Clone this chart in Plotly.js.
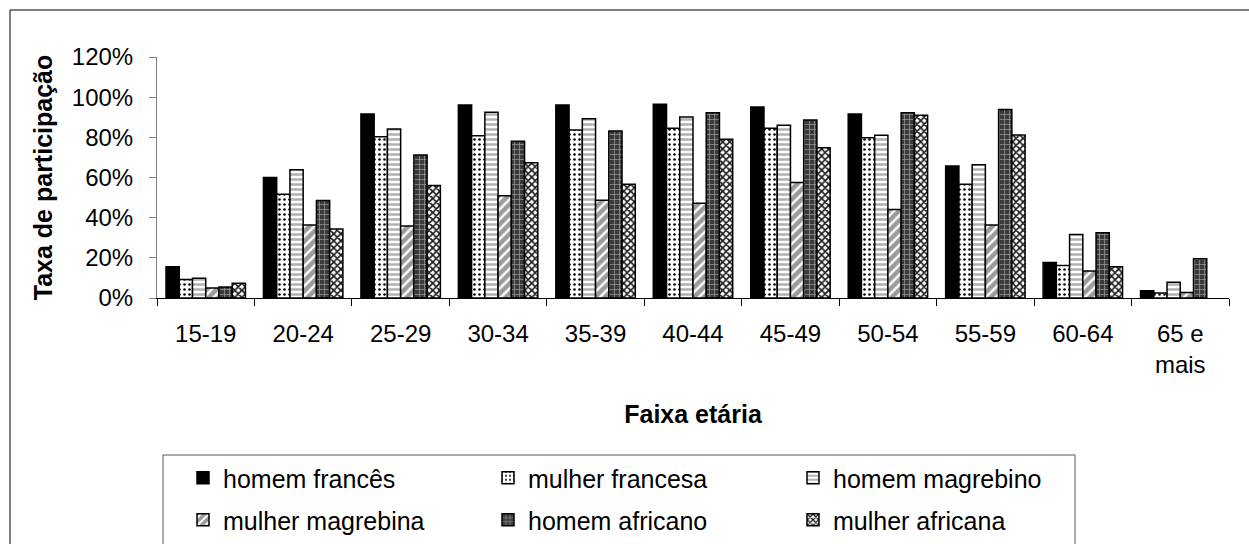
<!DOCTYPE html>
<html>
<head>
<meta charset="utf-8">
<script src="https://cdn.plot.ly/plotly-3.0.1.min.js"></script>
<style>html,body{margin:0;padding:0;background:#fff;}#chart{width:1249px;height:544px;}</style>
</head>
<body>
<div id="chart"></div>
<script>
const categories = ['15-19','20-24','25-29','30-34','35-39','40-44','45-49','50-54','55-59','60-64','65 e<br>mais'];
const seriesNames = ['homem francês','mulher francesa','homem magrebino','mulher magrebina','homem africano','mulher africana'];
const homemFrances    = [15.5, 60.0, 91.6, 96.1, 96.1, 96.5, 95.1, 91.6, 65.7, 17.7, 3.6];
const mulherFrancesa  = [9.2, 51.6, 80.3, 80.8, 83.6, 84.5, 84.5, 79.8, 56.6, 16.2, 2.5];
const homemMagrebino  = [9.8, 63.9, 84.1, 92.5, 89.3, 90.1, 86.0, 81.0, 66.3, 31.6, 7.8];
const mulherMagrebina = [5.0, 36.4, 35.9, 50.9, 48.7, 47.2, 57.5, 44.1, 36.3, 13.5, 2.8];
const homemAfricano   = [5.5, 48.6, 71.2, 78.1, 83.1, 92.3, 88.6, 92.3, 93.8, 32.5, 19.5];
const mulherAfricana  = [7.3, 34.3, 56.0, 67.3, 56.7, 79.0, 74.8, 91.0, 81.1, 15.5, null];
const yTicks = [0, 20, 40, 60, 80, 100, 120];
const yTickText = ['0%', '20%', '40%', '60%', '80%', '100%', '120%'];
const gridTicks = [20, 40, 60, 80, 100];

const FONT = 'Liberation Sans, Arial, sans-serif';
const values = [homemFrances, mulherFrancesa, homemMagrebino, mulherMagrebina, homemAfricano, mulherAfricana];
const markers = [
  {color:'#000000'},
  {color:'#ffffff', pattern:{shape:'.', fgcolor:'#000000', bgcolor:'#ffffff', size:5, solidity:0.2}},
  {color:'#ffffff', pattern:{shape:'-', fgcolor:'#b0b0b0', bgcolor:'#ffffff', size:5, solidity:0.5}},
  {color:'#9a9a9a', pattern:{shape:'/', fgcolor:'#ffffff', bgcolor:'#9a9a9a', size:7, solidity:0.35}},
  {color:'#3a3a3a', pattern:{shape:'+', fgcolor:'#a0a0a0', bgcolor:'#3a3a3a', size:5, solidity:0.25}},
  {color:'#ffffff', pattern:{shape:'x', fgcolor:'#1a1a1a', bgcolor:'#ffffff', size:5, solidity:0.55}}
];

const traces = values.map((v, i) => ({
  type:'bar',
  name: seriesNames[i],
  x: categories,
  y: v,
  legend: i < 3 ? 'legend' : 'legend2',
  marker: Object.assign({}, markers[i], {line:{color:'#000000', width:1.5}}),
  hoverinfo:'x+y+name'
}));

// pixel helpers for layout geometry
const W = 1249, H = 544, L = 157, R = 20, T = 57, B = 246;
const pw = W - L - R, ph = H - T - B;
const px = x => (x - L) / pw;
const py = y => (H - B - y) / ph;

const legendCommon = {
  orientation:'h', xanchor:'left', yanchor:'middle',
  font:{family:FONT, size:25, color:'#000'},
  bgcolor:'rgba(0,0,0,0)', borderwidth:0,
  entrywidth:260, entrywidthmode:'pixels',
  itemclick:false, itemdoubleclick:false
};

const layout = {
  width: W, height: H,
  margin:{l:L, r:R, t:T, b:B, autoexpand:false},
  paper_bgcolor:'#ffffff', plot_bgcolor:'#ffffff',
  font:{family:FONT, size:24, color:'#000'},
  barmode:'group', bargap:0.185, bargroupgap:0,
  showlegend:true,
  xaxis:{
    type:'category',
    showline:true, linecolor:'#000', linewidth:1,
    ticks:'outside', tickson:'boundaries', ticklen:7, tickcolor:'#000', tickwidth:1,
    tickfont:{family:FONT, size:24, color:'#000'},
    ticklabelstandoff:14,
    showgrid:false, zeroline:false, fixedrange:true,
    title:{text:'Faixa etária', font:{family:FONT, size:25, color:'#000', weight:'bold'}, standoff:28}
  },
  yaxis:{
    range:[0, 120], tickvals:yTicks, ticktext:yTickText,
    showline:true, linecolor:'#808080', linewidth:1,
    ticks:'outside', ticklen:7, tickcolor:'#808080', tickwidth:1,
    tickfont:{family:FONT, size:24, color:'#000'},
    ticklabelstandoff:11,
    showgrid:false, zeroline:false, fixedrange:true,
    title:{text:'Taxa de participação', font:{family:FONT, size:25, color:'#000', weight:'bold'}, standoff:12}
  },
  yaxis2:{
    overlaying:'y', range:[0, 120], tickvals:gridTicks,
    showticklabels:false, ticks:'', showline:false,
    showgrid:true, gridcolor:'#000', gridwidth:1, zeroline:false, fixedrange:true
  },
  legend: Object.assign({}, legendCommon, {x:px(183), y:py(478)}),
  legend2: Object.assign({}, legendCommon, {x:px(183), y:py(520)}),
  shapes:[
    {type:'rect', xref:'paper', yref:'paper', x0:px(10), x1:px(1262), y0:py(10), y1:py(560),
     line:{color:'#000', width:1}, fillcolor:'rgba(0,0,0,0)', layer:'below'},
    {type:'rect', xref:'paper', yref:'paper', x0:px(163), x1:px(1075), y0:py(455), y1:py(560),
     line:{color:'#555', width:1}, fillcolor:'rgba(0,0,0,0)', layer:'below'}
  ]
};

Plotly.newPlot('chart', traces, layout, {displayModeBar:false, staticPlot:true});
</script>
</body>
</html>
